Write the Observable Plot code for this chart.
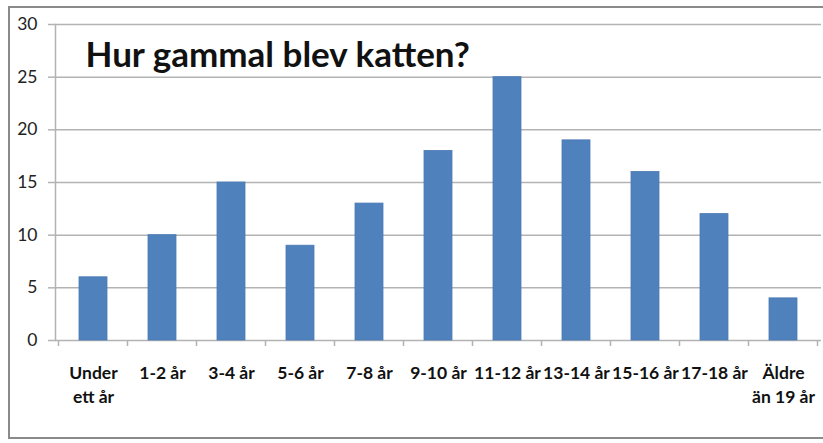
<!DOCTYPE html>
<html>
<head>
<meta charset="utf-8">
<script src="https://cdn.jsdelivr.net/npm/d3@7"></script>
<script src="https://cdn.jsdelivr.net/npm/@observablehq/plot@0.6"></script>
<style>
  html, body { margin: 0; padding: 0; background: #fff; }
  #wrap { position: relative; width: 823px; height: 443px; overflow: hidden; }
  #border { position: absolute; left: 8px; top: 6px; width: 830px; height: 433px; border: 2px solid #8a8a8a; box-sizing: border-box; pointer-events: none; }
  #chart { position: absolute; left: 0; top: 0; }
</style>
</head>
<body>
<div id="wrap"><div id="chart"></div><div id="border"></div></div>
<script>
const title = "Hur gammal blev katten?";
const categories = ["Under\nett år", "1-2 år", "3-4 år", "5-6 år", "7-8 år", "9-10 år", "11-12 år", "13-14 år", "15-16 år", "17-18 år", "Äldre\nän 19 år"];
const values = [6, 10, 15, 9, 13, 18, 25, 19, 16, 12, 4];
const yTicks = [0, 5, 10, 15, 20, 25, 30];

const data = categories.map((c, i) => ({cat: c, value: values[i]}));
const gridColor = "#b3b3b3";

const plot = Plot.plot({
  width: 823,
  height: 443,
  marginLeft: 55,
  marginRight: 2,
  marginTop: 24,
  marginBottom: 103,
  style: {fontFamily: "Lato, 'Open Sans', sans-serif", background: "transparent", overflow: "visible"},
  x: {domain: categories, paddingInner: 0.6, paddingOuter: 0.3, label: null},
  y: {domain: [0, 30], label: null},
  marks: [
    Plot.ruleY(yTicks, {stroke: gridColor, strokeWidth: 1.5}),
    Plot.axisY({ticks: yTicks, tickSize: 7, tickPadding: 11, stroke: gridColor, strokeWidth: 1.5, fontSize: 17.5, fill: "#222", label: null}),
    Plot.frame({anchor: "left", stroke: gridColor, strokeWidth: 1.5}),
    Plot.barY(data, {x: "cat", y: "value", fill: "#4f81bd", stroke: "#4a7ab5", strokeWidth: 0.8}),
    Plot.axisX({tickSize: 0, tickPadding: 21, fontSize: 17.5, fontWeight: "bold", fill: "#111", lineHeight: 1.38, label: null}),
    Plot.text([title], {frameAnchor: "top-left", dx: 30, dy: 31, textAnchor: "start", lineAnchor: "middle", fontSize: 35, fontWeight: "bold", fill: "#111"})
  ]
});

// category boundary ticks on the x axis, derived from the band scale
const xs = plot.scale("x");
const ys = plot.scale("y");
const step = xs.step;
const y0 = ys.apply(0);
const bounds = categories.map(c => xs.apply(c) - (step - xs.bandwidth) / 2);
bounds.push(bounds[bounds.length - 1] + step);
const svg = d3.select(plot);
svg.append("g")
  .attr("stroke", gridColor)
  .attr("stroke-width", 1.5)
  .selectAll("line")
  .data(bounds)
  .join("line")
  .attr("x1", d => d).attr("x2", d => d)
  .attr("y1", y0).attr("y2", y0 + 6);

document.getElementById("chart").append(plot);
</script>
</body>
</html>
